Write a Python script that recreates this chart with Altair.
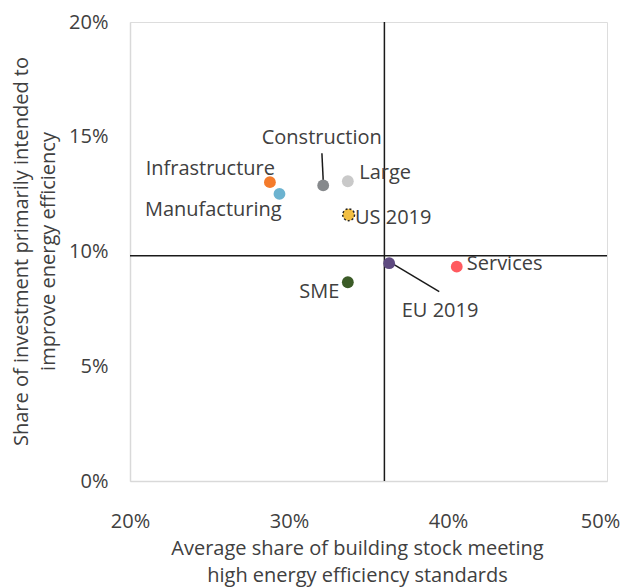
import altair as alt
import pandas as pd

# ---- data ----
labels = ["Infrastructure", "Manufacturing", "Construction", "Large",
          "US 2019", "EU 2019", "Services", "SME"]
x_vals = [0.288, 0.294, 0.3215, 0.337, 0.3375, 0.363, 0.4055, 0.337]
y_vals = [0.1302, 0.1251, 0.1288, 0.1306, 0.1160, 0.0949, 0.0934, 0.0866]
colors = ["#F47B2B", "#6CB3D0", "#86898C", "#C9C9C9",
          "#F2BF42", "#5E4A80", "#FF5A5F", "#3B5B27"]

label_x = [0.2912, 0.2954, 0.3206, 0.3442, 0.3415, 0.3950, 0.4118, 0.3317]
label_y = [0.1358, 0.1181, 0.1493, 0.1341, 0.1145, 0.0741, 0.0944, 0.0825]
label_align = ["right", "right", "center", "left", "left", "center", "left", "right"]

# leader lines (from label to point)
leader_x1 = [0.3207, 0.3945]
leader_y1 = [0.1428, 0.0825]
leader_x2 = [0.3216, 0.3645]
leader_y2 = [0.1297, 0.0949]

ref_x = 0.36
ref_y = 0.0982

x_ticks = [0.2, 0.3, 0.4, 0.5]
y_ticks = [0.0, 0.05, 0.10, 0.15, 0.20]

FONT = "Open Sans"
FS = 20
TXT = "#404040"

pts = pd.DataFrame({"label": labels, "x": x_vals, "y": y_vals, "color": colors})
lbl = pd.DataFrame({"label": labels, "x": label_x, "y": label_y, "align": label_align})
leaders = pd.DataFrame({"x": leader_x1, "y": leader_y1, "x2": leader_x2, "y2": leader_y2})

xs = alt.Scale(domain=[0.2, 0.5], nice=False, zero=False)
ys = alt.Scale(domain=[0.0, 0.2], nice=False, zero=False)

x_axis = alt.Axis(values=x_ticks, format=".0%", ticks=False, grid=False,
                  domainColor="#D9D9D9", domainWidth=1.5, labelFlush=False,
                  labelOffset={"condition": {"test": "datum.value >= 0.49", "value": -7},
                               "value": 0},
                  labelFont=FONT, labelFontSize=FS, labelColor=TXT, labelPadding=30,
                  title=["Average share of building stock meeting",
                         "high energy efficiency standards"],
                  titleFont=FONT, titleFontSize=FS, titleFontWeight="normal",
                  titleColor=TXT, titleLineHeight=27,
                  titleAnchor="start", titleAlign="center", titleBaseline="top",
                  titleX=227, titleY=57)
y_axis = alt.Axis(values=y_ticks, format=".0%", ticks=False, grid=False,
                  domainColor="#D9D9D9", domainWidth=1.5, labelFlush=False,
                  labelFont=FONT, labelFontSize=FS, labelColor=TXT, labelPadding=22,
                  title=["Share of investment primarily intended to",
                         "improve energy efficiency"],
                  titleFont=FONT, titleFontSize=FS, titleFontWeight="normal",
                  titleColor=TXT, titleLineHeight=27,
                  titleAnchor="middle", titleAlign="center", titleBaseline="top",
                  titleAngle=270, titleX=-119, titleY=229)

base_pts = alt.Chart(pts)

points = base_pts.mark_circle(size=140, opacity=1).encode(
    x=alt.X("x:Q", scale=xs, axis=x_axis),
    y=alt.Y("y:Q", scale=ys, axis=y_axis),
    color=alt.Color("color:N", scale=None),
)

us_outline = base_pts.transform_filter(alt.datum.label == "US 2019").mark_point(
    shape="circle", size=140, filled=False, stroke="#222222",
    strokeWidth=1.5, strokeDash=[2, 2], opacity=1
).encode(x=alt.X("x:Q", scale=xs), y=alt.Y("y:Q", scale=ys))

vline = alt.Chart(pd.DataFrame({"v": [ref_x]})).mark_rule(
    color="#1a1a1a", strokeWidth=1.5).encode(x=alt.X("v:Q", scale=xs))
hline = alt.Chart(pd.DataFrame({"v": [ref_y]})).mark_rule(
    color="#1a1a1a", strokeWidth=1.5).encode(y=alt.Y("v:Q", scale=ys))

leader = alt.Chart(leaders).mark_rule(color="#1a1a1a", strokeWidth=1.5).encode(
    x=alt.X("x:Q", scale=xs), y=alt.Y("y:Q", scale=ys), x2="x2:Q", y2="y2:Q")

text_layers = []
for a in ["left", "center", "right"]:
    text_layers.append(
        alt.Chart(lbl).transform_filter(alt.datum.align == a).mark_text(
            align=a, baseline="middle", font=FONT, fontSize=FS, color=TXT
        ).encode(x=alt.X("x:Q", scale=xs), y=alt.Y("y:Q", scale=ys), text="label:N")
    )

chart = alt.layer(vline, hline, leader, points, us_outline, *text_layers).properties(
    width=477, height=459,
    autosize=alt.AutoSizeParams(type="none"),
    padding={"left": 122, "top": 14, "right": 13, "bottom": 106},
).configure_view(stroke=None).configure(background="white")

chart.save("out.html", embed_options={"renderer": "svg", "actions": False})
